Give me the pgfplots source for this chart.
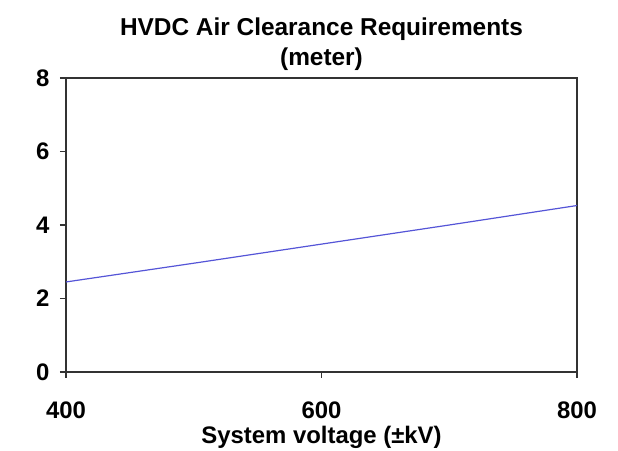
\documentclass[border=0pt]{standalone}
\usepackage{fontspec}
\setmainfont{Liberation Sans}
\usepackage{pgfplots}
\pgfplotsset{compat=1.18}
\definecolor{lineblue}{RGB}{85,85,215}
\begin{document}
\begin{tikzpicture}[x=1bp,y=1bp]
\useasboundingbox (0,0) rectangle (618,451);
\begin{axis}[
  at={(66bp,79bp)}, anchor=south west,
  width=511bp, height=294bp, scale only axis,
  xmin=400, xmax=800, ymin=0, ymax=8,
  xtick={400,600,800}, ytick={0,2,4,6,8},
  tick align=outside, tick pos=left,
  major tick length=6bp,
  axis line style={black!80, line width=1.1bp},
  every tick/.style={black!80, line width=1.1bp},
  /pgf/number format/assume math mode=true,
  ticklabel style={font=\bfseries\fontsize{24}{28}\selectfont},
  xticklabel style={yshift=-20bp},
  yticklabel style={xshift=-7bp},
  xlabel={System voltage (±kV)},
  xlabel style={font=\bfseries\fontsize{24}{28}\selectfont, yshift=-1bp},
  title={HVDC Air Clearance Requirements\\(meter)},
  title style={align=center, font=\bfseries\fontsize{24.5}{30}\selectfont, yshift=-2bp},
]
\addplot[lineblue, line width=1.2bp] coordinates {
 (400,2.45) (500,2.96) (600,3.48) (700,4.00) (800,4.53)
};
\end{axis}
\end{tikzpicture}
\end{document}
